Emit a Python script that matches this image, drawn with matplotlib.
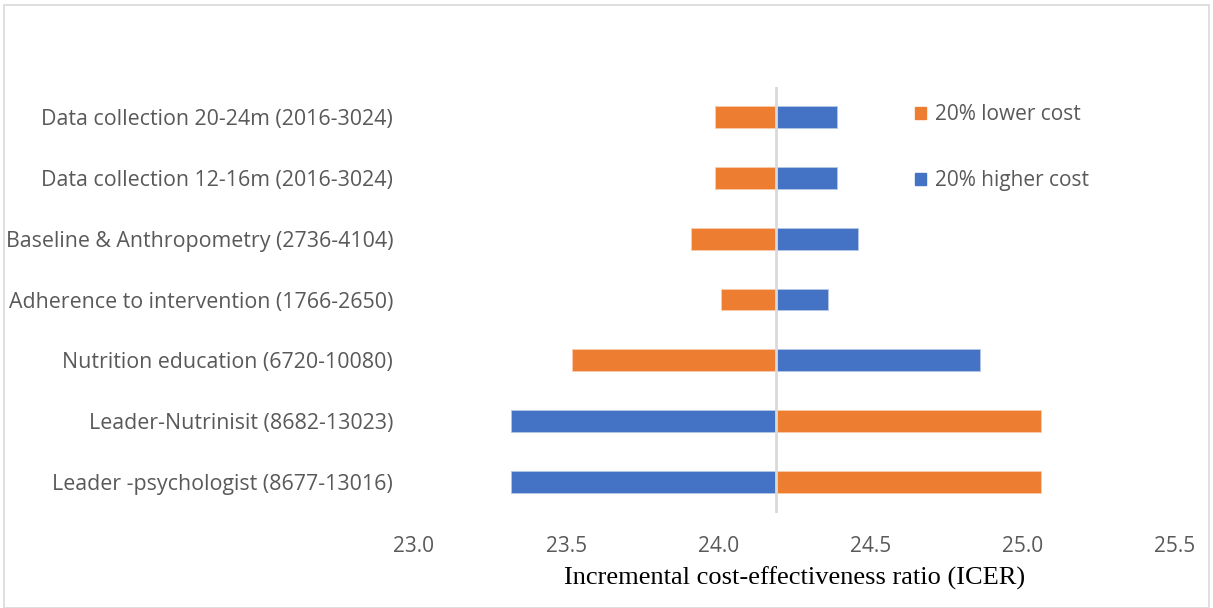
import matplotlib.pyplot as plt
from matplotlib.patches import Patch

# categories, bottom to top
labels = ["Leader -psychologist (8677-13016)",
          "Leader-Nutrinisit (8682-13023)",
          "Nutrition education (6720-10080)",
          "Adherence to intervention (1766-2650)",
          "Baseline & Anthropometry (2736-4104)",
          "Data collection 12-16m (2016-3024)",
          "Data collection 20-24m (2016-3024)"]
base_icer = 24.19
lower_cost = [25.06, 25.06, 23.52, 24.01, 23.91, 23.99, 23.99]
higher_cost = [23.32, 23.32, 24.86, 24.36, 24.46, 24.39, 24.39]
xticks = [23.0, 23.5, 24.0, 24.5, 25.0, 25.5]

orange = "#ED7D31"
blue = "#4472C4"
grey_txt = "#595959"

fig = plt.figure(figsize=(12.13, 6.08), dpi=100)
# outer chart border
fig.patches.append(plt.Rectangle((0.003, 0.0), 0.994, 0.992, transform=fig.transFigure,
                                 fill=False, edgecolor="#D9D9D9", linewidth=1.2))
ax = fig.add_axes([0.3413, 0.157, 0.6274, 0.7007])

y = range(len(labels))
ax.barh(y, [v - base_icer for v in lower_cost], left=base_icer, height=0.36,
        color=orange, edgecolor="#F8CBAD", linewidth=0.6, zorder=2)
ax.barh(y, [v - base_icer for v in higher_cost], left=base_icer, height=0.36,
        color=blue, edgecolor="#B4C7E7", linewidth=0.6, zorder=2)
ax.axvline(base_icer, color="#D9D9D9", linewidth=2, zorder=3)

ax.set_xlim(23.0, 25.5)
ax.set_ylim(-0.5, len(labels) - 0.5)
ax.set_xticks(xticks)
ax.set_xticklabels([f"{t:.1f}" for t in xticks], family="Open Sans", fontsize=15, color=grey_txt)
ax.set_yticks(list(y))
ax.set_yticklabels(labels, family="Open Sans", fontsize=15.4, color=grey_txt)
ax.tick_params(length=0)
ax.tick_params(axis="y", pad=15)
ax.tick_params(axis="x", pad=17)
for s in ax.spines.values():
    s.set_visible(False)

ax.set_xlabel("Incremental cost-effectiveness ratio (ICER)", family="Liberation Serif",
              fontsize=19, color="black", labelpad=7)

handles = [Patch(color=orange, label="20% lower cost"),
           Patch(color=blue, label="20% higher cost")]
leg = fig.legend(handles=handles, loc="upper left", bbox_to_anchor=(0.739, 0.859),
                 frameon=False, handlelength=0.5, handleheight=0.5, handletextpad=0.45,
                 labelspacing=2.15, prop={"family": "Open Sans", "size": 15})
for t in leg.get_texts():
    t.set_color(grey_txt)

plt.savefig("out.png", dpi=100)
